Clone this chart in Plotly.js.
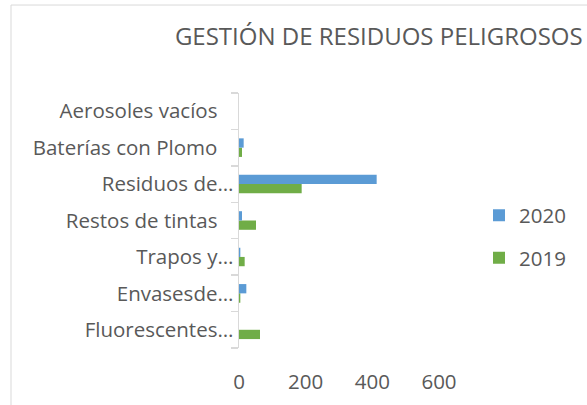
<!DOCTYPE html>
<html>
<head>
<meta charset="utf-8">
<script src="https://cdn.plot.ly/plotly-3.0.1.min.js"></script>
<style>
html,body{margin:0;padding:0;background:#fff;}
#chart{width:587px;height:405px;}
</style>
</head>
<body>
<div id="chart"></div>
<script>
// Categories listed bottom to top
const categories = [
  "Fluorescentes…",
  "Envasesde…",
  "Trapos y…",
  "Restos de tintas\u00a0\u00a0\u00a0",
  "Residuos de…",
  "Baterías con Plomo\u00a0\u00a0\u00a0",
  "Aerosoles vacíos\u00a0\u00a0\u00a0"
];
const values2020 = [0, 22, 4, 9, 413, 14, 0];
const values2019 = [63, 4, 17, 51, 188, 9, 0];
const seriesNames = ["2019", "2020"];
const xTickValues = [0, 200, 400, 600];
const chartTitle = "GESTIÓN DE RESIDUOS PELIGROSOS";

const textColor = "#595959";
const fontFamily = "'Open Sans', sans-serif";

const traces = [
  {
    type: "bar", orientation: "h", name: seriesNames[0],
    y: categories, x: values2019,
    marker: {color: "#70AD47"}, legendgroup: "b", legendrank: 2
  },
  {
    type: "bar", orientation: "h", name: seriesNames[1],
    y: categories, x: values2020,
    marker: {color: "#5B9BD5"}, legendgroup: "a", legendrank: 1
  }
];

const layout = {
  width: 587, height: 405,
  margin: {l: 239, r: 148, t: 93, b: 57, pad: 0},
  paper_bgcolor: "#ffffff",
  plot_bgcolor: "#ffffff",
  font: {family: fontFamily, size: 20.5, color: textColor},
  title: {
    text: chartTitle,
    font: {family: fontFamily, size: 24, color: textColor},
    xref: "container", x: 0.298, xanchor: "left",
    yref: "container", y: 0.91, yanchor: "middle"
  },
  barmode: "group",
  bargap: 0.49,
  bargroupgap: 0,
  xaxis: {
    range: [0, 600],
    tickvals: xTickValues,
    showgrid: false, zeroline: false, showline: false,
    ticks: "", ticklabelstandoff: 19,
    tickfont: {family: fontFamily, size: 20.5, color: textColor},
    fixedrange: true
  },
  yaxis: {
    type: "category",
    categoryorder: "array", categoryarray: categories,
    showgrid: false, zeroline: false,
    showline: true, linecolor: "#d9d9d9", linewidth: 1.5,
    ticks: "outside", tickson: "boundaries", ticklen: 7, tickcolor: "#d9d9d9", tickwidth: 1.5,
    tickfont: {family: fontFamily, size: 20.5, color: textColor},
    fixedrange: true
  },
  legend: {
    x: 1.2, xanchor: "left",
    y: 0.436, yanchor: "middle",
    traceorder: "grouped",
    tracegroupgap: 13,
    font: {family: fontFamily, size: 20.5, color: textColor},
    bgcolor: "rgba(0,0,0,0)"
  },
  showlegend: true,
  shapes: [
    {
      type: "rect", xref: "paper", yref: "paper",
      x0: -1.14, x1: 1.8, y0: -0.23, y1: 1.345,
      line: {color: "#d9d9d9", width: 1}, fillcolor: "rgba(0,0,0,0)", layer: "below"
    }
  ]
};

Plotly.newPlot("chart", traces, layout, {displayModeBar: false, staticPlot: true});
</script>
</body>
</html>
